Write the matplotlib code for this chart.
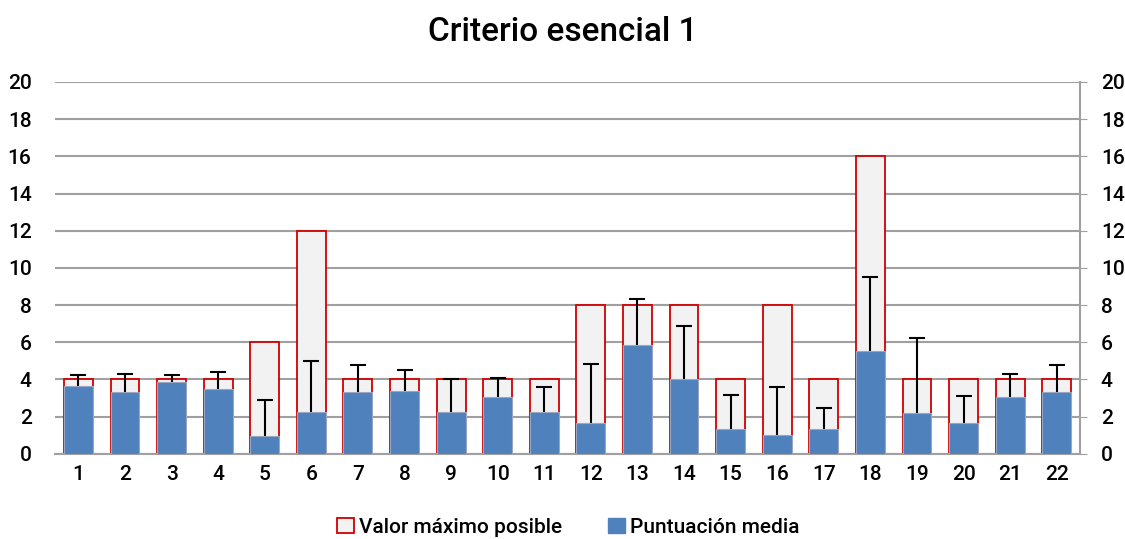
import matplotlib
matplotlib.use("Agg")
import matplotlib.pyplot as plt
from matplotlib.patches import Patch
import numpy as np

categories = [str(i) for i in range(1, 23)]
max_values = [4, 4, 4, 4, 6, 12, 4, 4, 4, 4, 4, 8, 8, 8, 4, 8, 4, 16, 4, 4, 4, 4]
mean_values = [3.65, 3.30, 3.89, 3.49, 0.95, 2.26, 3.35, 3.40, 2.26, 3.08, 2.26, 1.68,
               5.86, 4.05, 1.31, 0.99, 1.34, 5.52, 2.20, 1.65, 3.08, 3.35]
err_top = [4.22, 4.30, 4.25, 4.41, 2.89, 4.98, 4.80, 4.53, 4.05, 4.10, 3.57, 4.85,
           8.30, 6.90, 3.17, 3.57, 2.47, 9.53, 6.22, 3.12, 4.28, 4.80]
sd_values = [t - m for t, m in zip(err_top, mean_values)]
yticks = list(range(0, 21, 2))

FONT = ['Roboto', 'DejaVu Sans']
plt.rcParams['font.family'] = FONT
plt.rcParams['font.weight'] = 'medium'

fig = plt.figure(figsize=(11.25, 5.39), dpi=100)
ax = fig.add_axes([0.049, 0.158, 0.911, 0.690])

x = np.arange(len(categories))
w = 0.62
ax.bar(x, max_values, width=w, color='#F2F2F2', edgecolor='#D00000', linewidth=1.3, zorder=2)
ax.bar(x, mean_values, width=w, color='#4F81BD', edgecolor='#9DA6C0', linewidth=0.8, zorder=3)
eb = ax.errorbar(x, mean_values, yerr=[np.zeros(len(x)), sd_values], fmt='none',
                 ecolor='black', elinewidth=1.5, capsize=5.5, capthick=1.5, zorder=4)
for cl in eb[1]:
    yd = np.asarray(cl.get_ydata(), dtype=float)
    if np.allclose(yd, mean_values):
        cl.set_visible(False)

ax.set_xlim(-0.5, len(x) - 0.5)
ax.set_ylim(0, 20)
ax.set_yticks(yticks)
ax.yaxis.grid(True, color='#A0A0A0', linewidth=1.5, zorder=0)
ax.set_axisbelow(True)
ax.set_xticks(x)
ax.set_xticklabels(categories, fontsize=15)
ax.tick_params(axis='x', length=0, pad=8)
ax.tick_params(axis='y', length=0, labelsize=15, pad=17)

for s in ['top', 'left', 'right']:
    ax.spines[s].set_visible(False)
ax.spines['bottom'].set_color('#A0A0A0')
ax.spines['bottom'].set_linewidth(1.5)

ax2 = ax.twinx()
ax2.set_ylim(0, 20)
ax2.set_yticks(yticks)
ax2.tick_params(axis='y', length=5, color='#A0A0A0', labelsize=15, pad=10)
for s in ['top', 'left', 'bottom']:
    ax2.spines[s].set_visible(False)
ax2.spines['right'].set_color('#A0A0A0')
ax2.spines['right'].set_linewidth(1.5)

fig.text(0.5, 0.94, 'Criterio esencial 1', ha='center', va='center', fontsize=24)

handles = [Patch(facecolor='#F2F2F2', edgecolor='#D00000', linewidth=1.3),
           Patch(facecolor='#4F81BD', edgecolor='#4F81BD')]
fig.legend(handles, ['Valor máximo posible', 'Puntuación media'], loc='center',
           bbox_to_anchor=(0.505, 0.022), ncol=2, frameon=False, fontsize=15,
           handlelength=0.8, handleheight=0.8, handletextpad=0.25, columnspacing=2.2)

fig.savefig('out.png', dpi=100)
